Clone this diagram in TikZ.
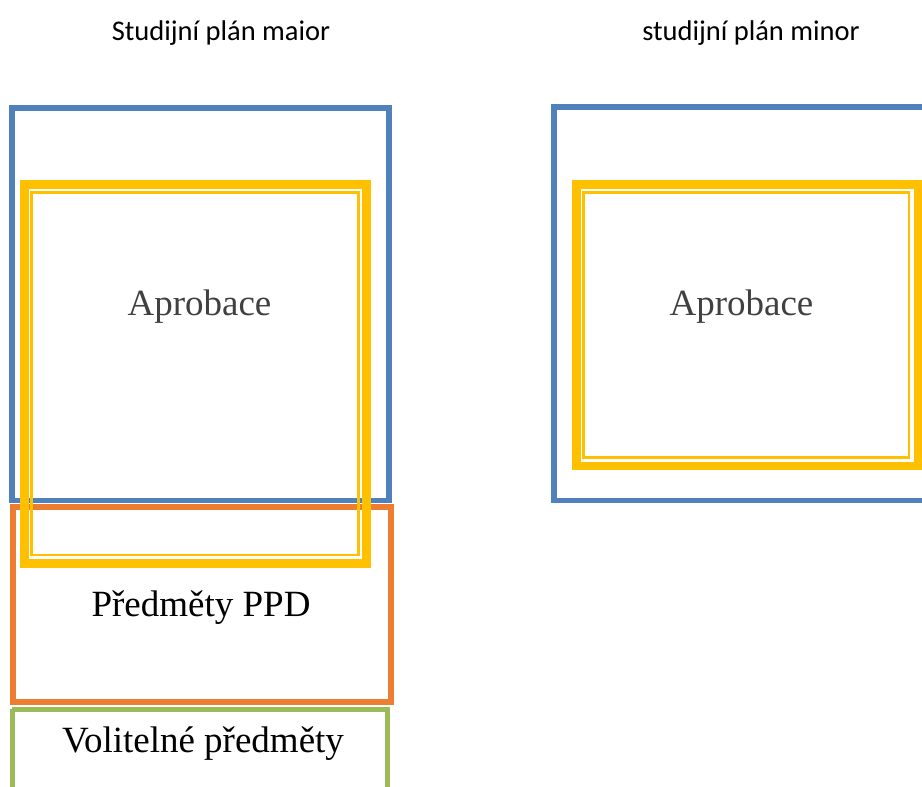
\documentclass[tikz,border=0pt]{standalone}
\usepackage{fontspec}
\setmainfont{Liberation Serif}
\newfontfamily\titlefont{Carlito}
\usetikzlibrary{positioning, calc}

\definecolor{planblue}{HTML}{4F81BD}
\definecolor{ppdorange}{HTML}{ED7D31}
\definecolor{volgreen}{HTML}{9BBB59}
\definecolor{aprobyellow}{HTML}{FFC000}

\tikzset{
    planbox/.style={draw=planblue, line width=5.5pt},
    ppdbox/.style={draw=ppdorange, line width=6pt},
    volbox/.style={draw=volgreen, line width=5pt},
    aprobthick/.style={draw=aprobyellow, line width=8.5pt},
    aprobthin/.style={draw=aprobyellow, line width=2.5pt},
    title/.style={anchor=base, font=\titlefont\fontsize{28.5}{34}\selectfont},
    label/.style={anchor=base, font=\fontsize{37}{44}\selectfont},
}

\begin{document}
\begin{tikzpicture}[x=1pt, y=-1pt]
                    \useasboundingbox (0, 0) rectangle (922, 787);

                    % maior
                    \draw [planbox] (11.8, 108) rectangle (388.8, 500.5);
                    \draw [ppdbox] (13.3, 507) rectangle (391.3, 702);
                    \draw [volbox] (12, 709) -- (12, 800);
                    \draw [volbox] (387.5, 800) -- (387.5, 709) -- (12, 709);
                    \draw [aprobthick] (24.3, 184.3) rectangle (366.7, 563.7);
                    \draw [aprobthin] (31.5, 192.5) rectangle (358.7, 555);

                    % minor
                    \draw [planbox] (950, 107) -- (554, 107) -- (554, 500.5) -- (950, 500.5);
                    \draw [aprobthick] (576.3, 184.5) rectangle (918.7, 466);
                    \draw [aprobthin] (583.5, 192.5) rectangle (909.2, 457.5);

                    \node [title] (maior) at (221, 40) {Studijní plán maior};
                    \node [title] (minor) at (751, 40) {studijní plán minor};

                    \node [label, text=black!75] (aprobmaior) at (199.5, 315) {Aprobace};
                    \node [label, text=black!75] (aprobminor) at (741.5, 315) {Aprobace};
                    \node [label] (ppd) at (201, 616) {Předměty PPD};
                    \node [label] (volitelne) at (203, 752) {Volitelné předměty};
                \end{tikzpicture}
\end{document}
